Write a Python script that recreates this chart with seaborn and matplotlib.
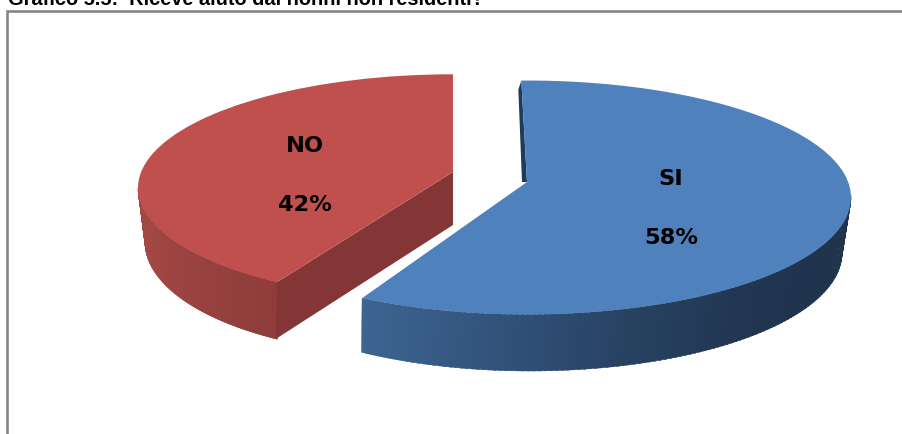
import numpy as np
import matplotlib
matplotlib.use("Agg")
import matplotlib.pyplot as plt
from matplotlib.patches import Rectangle
import seaborn as sns

categories = ["SI", "NO"]
values = [58, 42]
title = "Grafico 5.5:  Riceve aiuto dai nonni non residenti?"

W, H = 903, 435
K = 2.77  # y stretch so an ellipse on screen is a circle in data units
def Y(py): return (H - py) * K

sns.set_theme(style="white")
palette = sns.color_palette(["#4F81BD", "#C0504D"])

fig = plt.figure(figsize=(W / 100, H / 100), dpi=100)
ax = fig.add_axes([0, 0, 1, 1])

total = sum(values)

def ell(e, a):
    a = np.radians(a)
    return e["cx"] + e["r"] * np.cos(a), Y(e["cy"]) + e["ry"] * K * np.sin(a)

def side(top_e, low_e, a0, a1, b0, b1, colors):
    """Rim of the 3D slice, as thin shaded strips between two ellipses."""
    n = 120
    ta = np.linspace(a0, a1, n)
    tb = np.linspace(b0, b1, n)
    stops = np.linspace(0, 1, len(colors))
    cols = np.array(colors) / 255
    for i in range(n - 1):
        t = i / (n - 2)
        col = [np.interp(t, stops, cols[:, c]) for c in range(3)]
        xt, yt = ell(top_e, np.linspace(ta[i], ta[i + 1] + 0.4, 3))
        xb, yb = ell(low_e, np.linspace(tb[i + 1] + 0.4, tb[i], 3))
        ax.fill(np.r_[xt, xb], np.r_[yt, yb], color=col, lw=0.3, zorder=2)

# geometry of the two slices on screen
blue = dict(cx=527, cy=198.5, r=324, ry=117, start=91, apex=(527, 183), tweak=-2.8)
red = dict(cx=453, cy=189, r=315, ry=113.7, start=90, apex=(453, 173), tweak=-5.2)
blue_low = dict(cx=530, cy=254, r=312, ry=118)
red_low = dict(cx=415, cy=243, r=270, ry=113)

def top(value, color, g, ccw):
    wedges, _ = ax.pie([value / total], normalize=False, colors=[color],
                       startangle=g["start"], counterclock=ccw,
                       center=(g["cx"], Y(g["cy"])), radius=g["r"],
                       frame=True)
    w = wedges[0]
    if ccw:
        w.set_theta2(w.theta2 + g["tweak"])
    else:
        w.set_theta1(w.theta1 + g["tweak"])
    v = w.get_path().vertices
    mask = np.all(np.isclose(v, (g["cx"], Y(g["cy"]))), axis=1)
    v[mask] = (g["apex"][0], Y(g["apex"][1]))
    w.set_zorder(4)
    w.set_linewidth(0)
    return w

wb = top(values[0], palette[0], blue, False)
wr = top(values[1], palette[1], red, True)

# blue rim and the sliver of its inner cut face
side(blue, blue_low, wb.theta1 + 360, 361, 237.3, 361,
     [(61, 100, 146), (50, 84, 124), (40, 66, 98), (33, 54, 82), (31, 51, 77), (31, 51, 77)])
ex, ey = ell(blue, wb.theta2)
ax.fill([ex, ex - 3, blue["apex"][0] - 5, blue["apex"][0]],
        [ey, ey - 25, Y(blue["apex"][1]), Y(blue["apex"][1])],
        color="#1F3A5A", lw=0, zorder=3)

# red rim and cut face
side(red, red_low, 180, wr.theta2, 180, 239,
     [(168, 74, 71), (160, 70, 67), (152, 66, 63), (143, 60, 58)])
ex, ey = ell(red, wr.theta2)
lx, ly = ell(red_low, 239)
rim_x, rim_y = red["apex"][0], Y(red["apex"][1])
ax.fill([rim_x, ex, lx, rim_x], [rim_y, ey, ly, Y(226)],
        color="#843636", lw=0, zorder=3)

# slice labels
font = dict(family="DejaVu Sans", weight="bold", fontsize=16.2, color="black",
            ha="center", va="center", zorder=6)
for name, value, (px, py1, py2) in zip(categories, values,
                                       [(671, 179, 238), (305, 146, 205)]):
    ax.text(px, Y(py1), name, **font)
    ax.text(px, Y(py2), f"{value}%", **font)

# chart area border (runs off the right and bottom of the crop)
ax.add_patch(Rectangle((7.5, Y(H + 20)), W + 20, Y(12) - Y(H + 20), fill=False,
                       edgecolor="#868686", lw=1.9, zorder=1))

ax.set_xlim(0, W)
ax.set_ylim(0, H * K)
ax.set_aspect("auto")
ax.set_xticks([])
ax.set_yticks([])
ax.set_frame_on(False)

# title sits partly above the crop
ax.text(8, Y(5), title, family="Liberation Sans", weight="bold", fontsize=14.45,
        color="black", ha="left", va="baseline", zorder=6)

fig.savefig("out.png", dpi=100)
